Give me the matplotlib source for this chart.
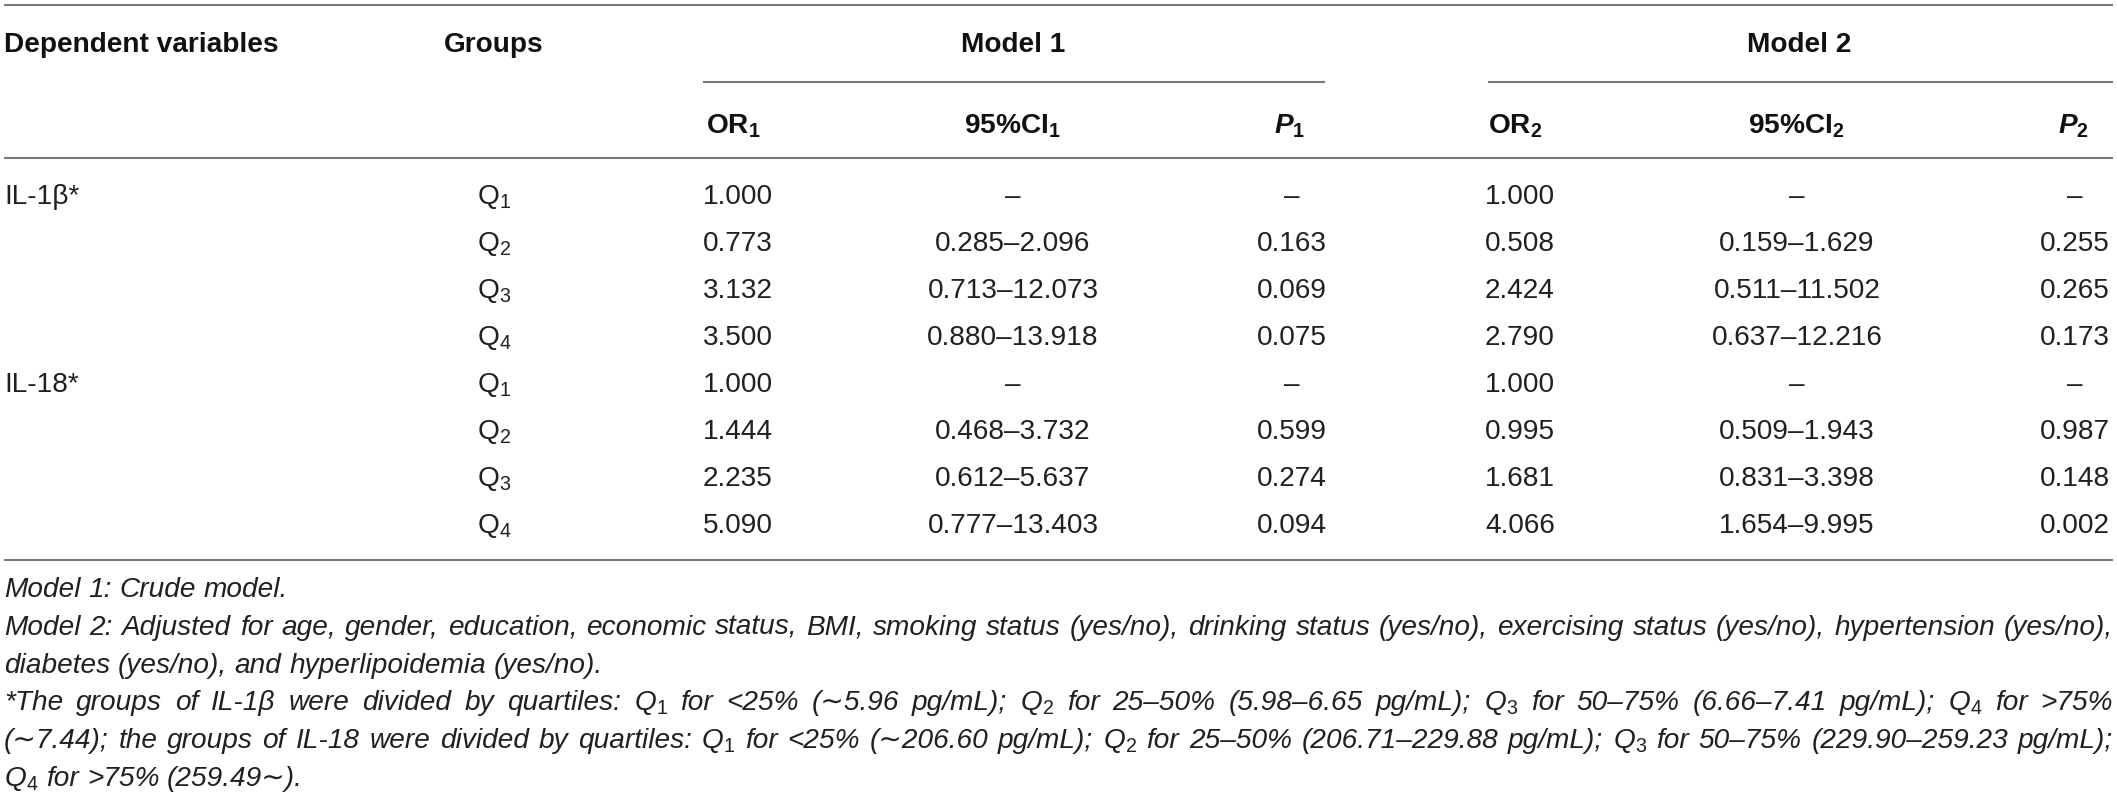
import matplotlib
matplotlib.use("Agg")
import matplotlib.pyplot as plt

plt.rcParams['font.family'] = ['Liberation Sans', 'DejaVu Sans']
plt.rcParams['mathtext.fontset'] = 'custom'
plt.rcParams['mathtext.rm'] = 'Liberation Sans'
plt.rcParams['mathtext.it'] = 'Liberation Sans:italic'
plt.rcParams['mathtext.bf'] = 'Liberation Sans:bold'

# table content
variables = ["IL-1β*", "", "", "", "IL-18*", "", "", ""]
groups = ["Q$_1$", "Q$_2$", "Q$_3$", "Q$_4$", "Q$_1$", "Q$_2$", "Q$_3$", "Q$_4$"]
or1 = ["1.000", "0.773", "3.132", "3.500", "1.000", "1.444", "2.235", "5.090"]
ci1 = ["–", "0.285–2.096", "0.713–12.073", "0.880–13.918",
       "–", "0.468–3.732", "0.612–5.637", "0.777–13.403"]
p1 = ["–", "0.163", "0.069", "0.075", "–", "0.599", "0.274", "0.094"]
or2 = ["1.000", "0.508", "2.424", "2.790", "1.000", "0.995", "1.681", "4.066"]
ci2 = ["–", "0.159–1.629", "0.511–11.502", "0.637–12.216",
       "–", "0.509–1.943", "0.831–3.398", "1.654–9.995"]
p2 = ["–", "0.255", "0.265", "0.173", "–", "0.987", "0.148", "0.002"]

footnotes = [
    "Model 1: Crude model.",
    "Model 2: Adjusted for age, gender, education, economic status, BMI, smoking status (yes/no), "
    "drinking status (yes/no), exercising status (yes/no), hypertension (yes/no),",
    "diabetes (yes/no), and hyperlipoidemia (yes/no).",
    "*The groups of IL-1β were divided by quartiles: Q$_1$ for <25% (∼5.96 pg/mL); Q$_2$ for 25–50% "
    "(5.98–6.65 pg/mL); Q$_3$ for 50–75% (6.66–7.41 pg/mL); Q$_4$ for >75%",
    "(∼7.44); the groups of IL-18 were divided by quartiles: Q$_1$ for <25% (∼206.60 pg/mL); Q$_2$ for "
    "25–50% (206.71–229.88 pg/mL); Q$_3$ for 50–75% (229.90–259.23 pg/mL);",
    "Q$_4$ for >75% (259.49∼).",
]
justified = [False, True, False, True, True, False]

W, H = 2117, 796
fs = 20.2
ink = '#231f20'
rule = '#7a7a7a'

fig = plt.figure(figsize=(W / 100, H / 100), dpi=100)
ax = fig.add_axes([0, 0, 1, 1])
ax.set_xlim(0, W)
ax.set_ylim(H, 0)
ax.axis('off')

LEFT, RIGHT = 4, 2113

# rules
for y in (5, 158, 560):
    ax.plot([LEFT, RIGHT], [y, y], color=rule, lw=1.5, solid_capstyle='butt')
ax.plot([703, 1325], [82, 82], color=rule, lw=1.5, solid_capstyle='butt')
ax.plot([1488, RIGHT], [82, 82], color=rule, lw=1.5, solid_capstyle='butt')

# header
hb = dict(fontsize=fs, fontweight='bold', color='#111111', va='baseline')
ax.text(LEFT, 52, "Dependent variables", ha='left', **hb)
ax.text(494, 52, "Groups", ha='center', **hb)
ax.text(1013, 52, "Model 1", ha='center', **hb)
ax.text(1799, 52, "Model 2", ha='center', **hb)
ax.text(706, 133, r"OR$_\mathbf{1}$", ha='left', **hb)
ax.text(1012, 133, r"95%CI$_\mathbf{1}$", ha='center', **hb)
ax.text(1290, 133, r"P$_\mathbf{1}$", ha='center', style='italic', **hb)
ax.text(1488, 133, r"OR$_\mathbf{2}$", ha='left', **hb)
ax.text(1796, 133, r"95%CI$_\mathbf{2}$", ha='center', **hb)
ax.text(2074, 133, r"P$_\mathbf{2}$", ha='center', style='italic', **hb)

# body rows
bd = dict(fontsize=fs, color=ink, va='baseline')
for i in range(len(groups)):
    y = 204 + 47 * i
    ax.text(LEFT, y, variables[i], ha='left', **bd)
    ax.text(494, y, groups[i], ha='center', **bd)
    ax.text(703, y, or1[i], ha='left', **bd)
    ax.text(1013, y, ci1[i], ha='center', **bd)
    ax.text(1292, y, p1[i], ha='center', **bd)
    ax.text(1485, y, or2[i], ha='left', **bd)
    ax.text(1797, y, ci2[i], ha='center', **bd)
    ax.text(2075, y, p2[i], ha='center', **bd)

# footnotes, word by word so that full lines can be justified
renderer = fig.canvas.get_renderer()
space = 7.8
for k, line in enumerate(footnotes):
    y = 597 + 37.8 * k
    words = line.split(' ')
    objs = [ax.text(0, y, w, fontsize=fs, style='italic', color=ink,
                    va='baseline', ha='left') for w in words]
    widths = [o.get_window_extent(renderer).width for o in objs]
    gap = space
    if justified[k] and len(words) > 1:
        gap = (RIGHT - LEFT - sum(widths)) / (len(words) - 1)
    x = LEFT
    for o, w in zip(objs, widths):
        o.set_x(x)
        x += w + gap

fig.savefig("out.png", dpi=100)
